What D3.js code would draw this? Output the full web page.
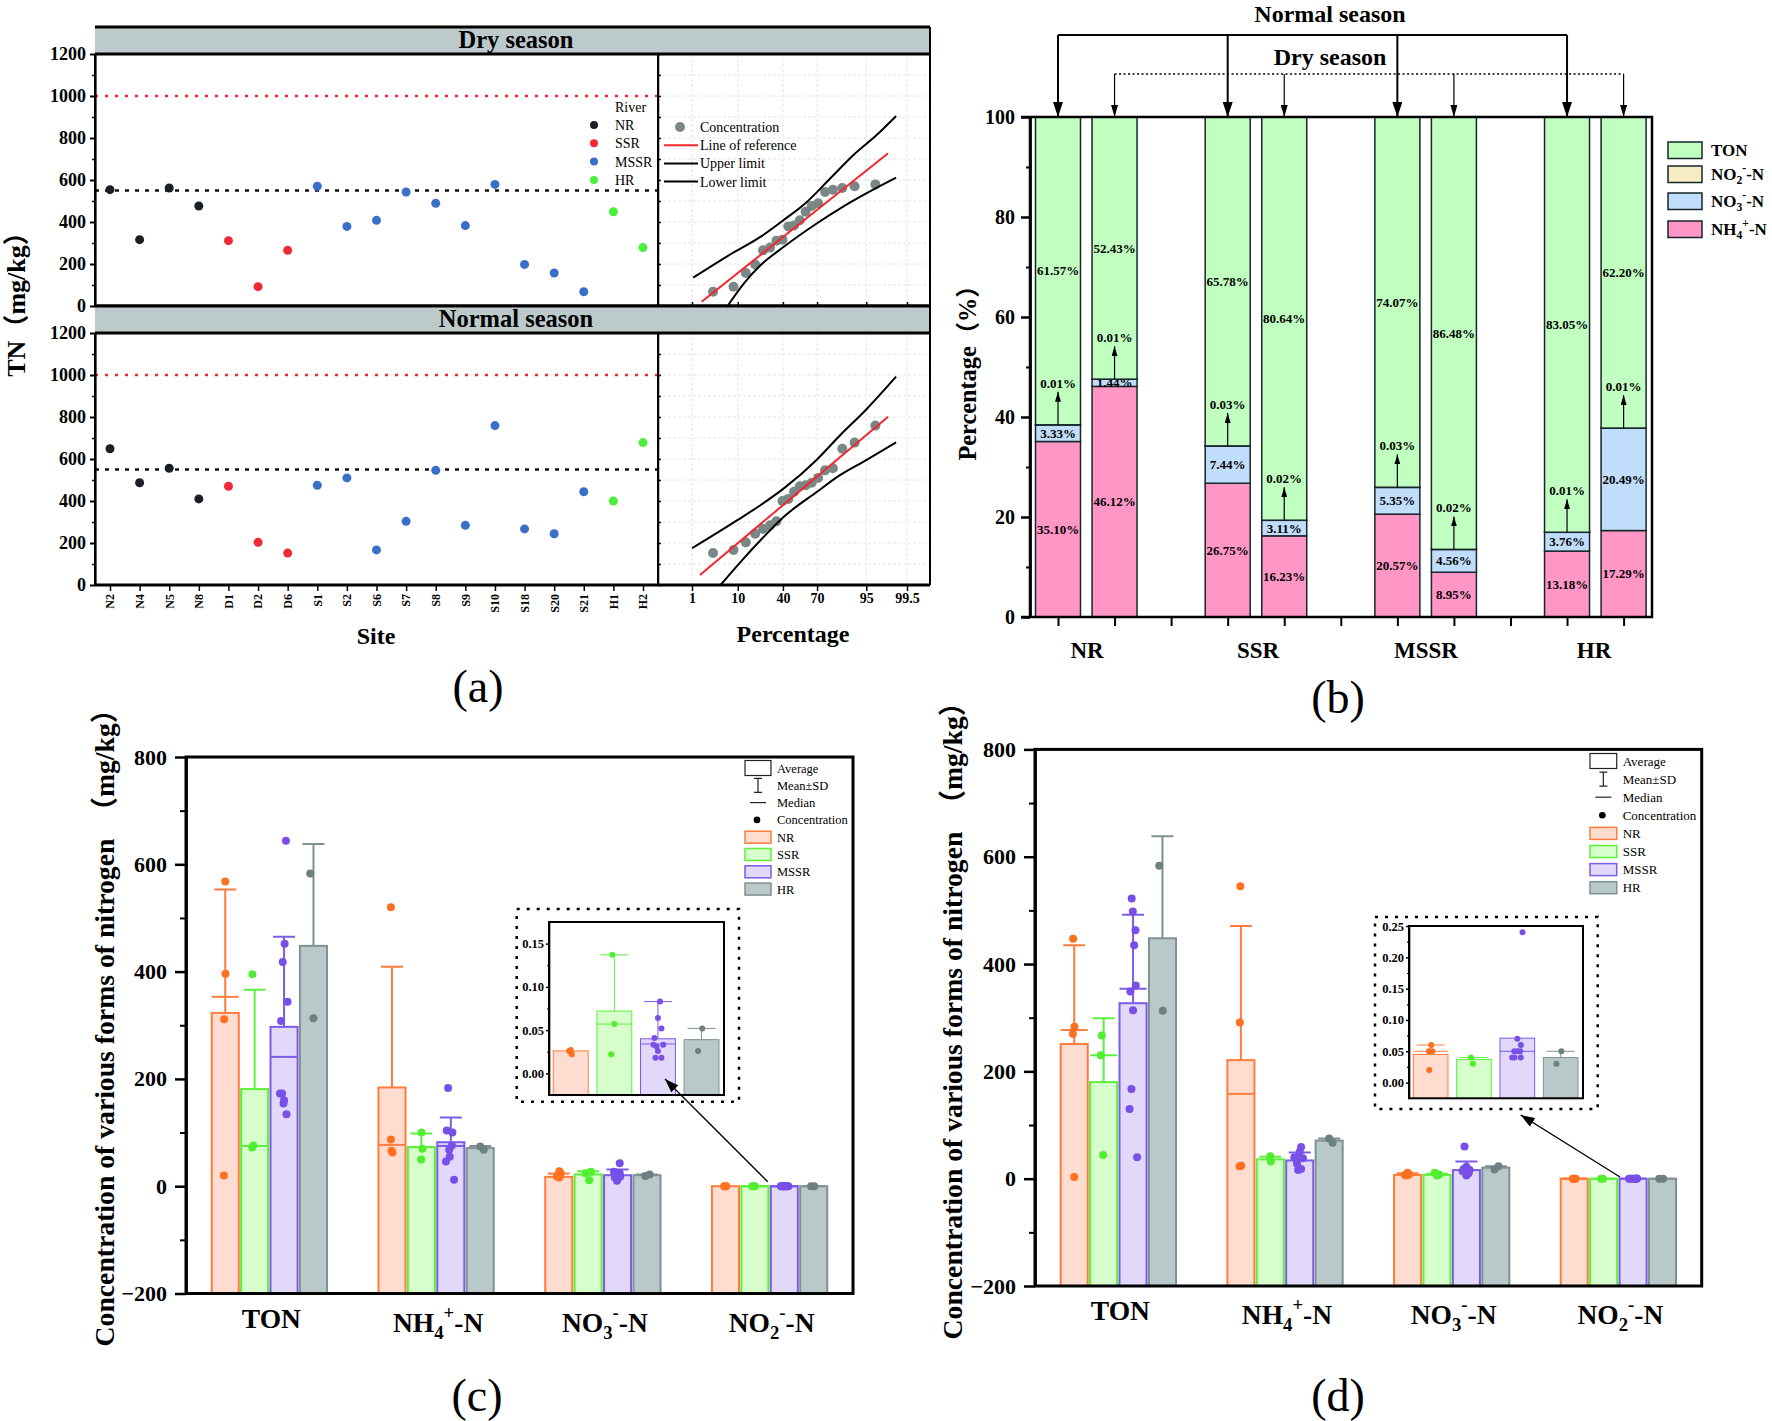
<!DOCTYPE html>
<html>
<head>
<meta charset="utf-8">
<script src="https://cdn.jsdelivr.net/npm/d3@7"></script>
<style>
  html, body { margin: 0; padding: 0; background: #fff; }
  svg { display: block; }
</style>
</head>
<body>
<svg id="chart"></svg>
<script>
// panel (a)
const sites = ["N2","N4","N5","N8","D1","D2","D6","S1","S2","S6","S7","S8","S9","S10","S18","S20","S21","H1","H2"];
const siteRiver = ["NR","NR","NR","NR","SSR","SSR","SSR","MSSR","MSSR","MSSR","MSSR","MSSR","MSSR","MSSR","MSSR","MSSR","MSSR","HR","HR"];
const dryTN = [554,316,562,476,311,92,265,570,379,408,543,489,383,579,198,157,68,449,278];
const normalTN = [649,487,556,410,470,203,152,475,510,167,303,546,284,759,267,244,444,400,678];
const qqPercent = [3.25,8.4,13.6,18.8,24,29.2,34.4,39.6,44.8,50,55.2,60.4,65.6,70.8,76,81.2,86.4,91.6,96.8];
const probTicks = [1,10,40,70,95,99.5];
const dryRef = [[1.76,20],[98.4,727]];
const dryUpper = [[1.07,135],[6.5,238],[22.4,330],[40.8,410],[61.8,497],[79.6,608],[91.2,719],[97,814],[99,905]];
const dryLower = [[6.5,0],[12.7,108],[22.4,195],[40.8,282],[70,394],[85.4,465],[95.1,537],[99,611]];
const normalRef = [[1.6,48],[98.4,801]];
const normalUpper = [[1,175],[10,310],[22.4,381],[40.8,460],[70,598],[85.4,714],[95,836],[99,992]];
const normalLower = [[4.7,0],[10,95],[22.4,214],[40.8,325],[70,444],[85.4,524],[95,595],[99,679]];

// panel (b)
const bGroups = ["NR","SSR","MSSR","HR"];
const bSlots = [0,1,3,4,6,7,9,10];
const bNH4 = [35.10,46.12,26.75,16.23,20.57,8.95,13.18,17.29];
const bNO3 = [3.33,1.44,7.44,3.11,5.35,4.56,3.76,20.49];
const bNO2 = [0.01,0.01,0.03,0.02,0.03,0.02,0.01,0.01];
const bTON = [61.57,52.43,65.78,80.64,74.07,86.48,83.05,62.20];
const bLegend = ["TON","NO2--N","NO3--N","NH4+-N"];

// panels (c) and (d), rows are forms of nitrogen, columns are rivers
const rivers = ["NR","SSR","MSSR","HR"];
const formNames = ["TON","NH4+-N","NO3--N","NO2--N"];

const cMeans = [[323,181,297,448],[184,73,82,71],[17.4,22,20.5,20.5],[0.026,0.072,0.04,0.039]];
const cTops = [[553,366,465,638],[409,98,128,75],[23.6,28,31,22],[0.026,0.137,0.083,0.052]];
const cMedians = [[353,75,241,null],[77,null,75,null],[null,null,null,null],[null,0.057,0.034,null]];
const cPoints = [
  [[568,396,311,20],[395,76,72],[644,452,418,344,308,173,173,160,154,134],[583,313]],
  [[520,87,66,63],[100,70,50],[183,104,100,76,68,55,46,12],[74,68]],
  [[28,18,16,24],[27,24,11],[43,27,24,22,20,18,16,14,10],[22,19]],
  [[0.027,0.026,0.022],[0.137,0.057,0.022],[0.083,0.064,0.052,0.041,0.033,0.033,0.031,0.026,0.018,0.018],[0.052,0.026]]
];
const cJitter = [
  [[0,0.01,-0.04,-0.05],[-0.08,-0.05,-0.09],[0.07,0.02,-0.05,0.13,-0.11,-0.15,-0.07,0,-0.02,0.09],[-0.12,0]],
  [[-0.04,-0.04,-0.02,0.02],[0,0.04,-0.01],[-0.1,-0.15,0.06,0.04,-0.06,-0.04,-0.18,0.12],[0,0.13]],
  [[0.02,-0.07,0.02,0.07],[0.1,-0.1,0.04],[0.08,-0.13,0.08,-0.07,0,0.1,-0.1,0.01,-0.02],[0.1,-0.06]],
  [[0,-0.05,0.03],[-0.06,0,-0.09],[0.06,0,0.1,-0.1,-0.13,0.15,-0.04,0,-0.07,0.1],[0.02,-0.1]]
];

const dMeans = [[251,180,327,448],[221,36,34,71],[7,7,16,20.5],[0.045,0.037,0.071,0.04]];
const dTops = [[435,299,492,638],[471,41,49,75],[10,9,32,23],[0.06,0.04,0.07,0.05]];
const dMedians = [[277,230,354,null],[158,null,null,null],[null,null,null,null],[0.05,null,0.05,null]];
const dPoints = [
  [[447,283,270,3],[267,230,44],[522,498,463,435,360,349,314,167,130,40],[583,313]],
  [[545,291,24,23],[42,37,32],[59,50,40,40,38,35,28,18,16],[75,67]],
  [[11,8,7,6],[11,8,6],[60,22,18,16,14,12,10,6],[23,17]],
  [[0.06,0.05,0.05,0.02],[0.04,0.03],[0.24,0.07,0.06,0.05,0.05,0.05,0.04,0.04,0.04],[0.05,0.03]]
];
const dJitter = [
  [[-0.04,0.01,-0.05,0],[-0.07,-0.11,-0.02],[-0.05,-0.01,0.09,0.04,0.1,-0.1,0,-0.06,-0.13,0.15],[-0.12,0.01]],
  [[-0.02,-0.04,0.01,-0.05],[0,0,0.02],[0.05,0,-0.2,-0.04,0.12,-0.12,-0.1,0.05,-0.06],[0,0.13]],
  [[0,0.06,-0.1,-0.04],[-0.08,0.08,0],[-0.07,0,-0.1,0.12,-0.14,0,0.08,0],[0.1,-0.05]],
  [[0.02,-0.05,0.05,-0.04],[-0.09,-0.03],[0.15,0,0.1,-0.09,0,0.08,-0.15,-0.08,0.1],[0.02,-0.12]]
];

const W = 1772, H = 1421;
const serif = '"Liberation Serif","Noto Sans CJK SC",serif';

const svg = d3.select("#chart").attr("width", W).attr("height", H)
  .attr("viewBox", `0 0 ${W} ${H}`)
  .style("font-family", serif).style("font-weight", "bold");

svg.append("rect").attr("width", W).attr("height", H).attr("fill", "#fff");

function arrowMarker(id, w, l, color) {
  svg.append("defs").append("marker")
    .attr("id", id).attr("markerUnits", "userSpaceOnUse")
    .attr("viewBox", `0 0 ${l} ${w}`)
    .attr("refX", l).attr("refY", w / 2)
    .attr("markerWidth", l).attr("markerHeight", w)
    .attr("orient", "auto")
    .append("path").attr("d", `M0,0L${l},${w / 2}L0,${w}Z`).attr("fill", color);
}
arrowMarker("arrowBig", 10, 15, "#000");
arrowMarker("arrowMid", 7, 12, "#000");
arrowMarker("arrowSmall", 6, 10, "#000");
arrowMarker("arrowInset", 10, 14, "#000");

// NH4+-N style names with real sub and superscripts
function chem(text, name, size) {
  const m = name.match(/^(N[HO])(\d)([+-])(-N)$/);
  if (!m) { text.text(name); return; }
  const small = size * 0.68, shift = size * 0.26, up = size * 0.72;
  text.append("tspan").text(m[1]);
  text.append("tspan").attr("font-size", small).attr("dy", shift).text(m[2]);
  text.append("tspan").attr("font-size", small).attr("dy", -up).text(m[3]);
  text.append("tspan").attr("dy", up - shift).text(m[4]);
}

function styleAxis(g, size, width) {
  g.selectAll("text").style("font-family", serif).style("font-weight", "bold").attr("font-size", size).attr("fill", "#000");
  g.selectAll("line,path").attr("stroke", "#000").attr("stroke-width", width);
}

function panelLabel(s, x, y) {
  svg.append("text").attr("x", x).attr("y", y).attr("text-anchor", "middle")
    .attr("font-size", 46).attr("font-weight", "normal").text(s);
}

function rotated(s, x, y, size) {
  return svg.append("text").attr("transform", `translate(${x},${y}) rotate(-90)`)
    .attr("text-anchor", "middle").attr("font-size", size).text(s);
}

// ---------- panel (a) ----------
const xSite = d3.scalePoint().domain(sites).range([110, 643]);
const zOf = p => {
  // inverse normal, Winitzki approximation
  const a = 0.147, x = 2 * p / 100 - 1, ln = Math.log(1 - x * x), t = 2 / (Math.PI * a) + ln / 2;
  return Math.SQRT2 * Math.sign(x) * Math.sqrt(Math.sqrt(t * t - ln / a) - t);
};
const xProb = d3.scaleLinear().domain([zOf(1), zOf(99.5)]).range([692, 907]);
const riverDot = d3.scaleOrdinal().domain(rivers).range(["#1a1f26", "#ee2a35", "#3a6fc9", "#4cf03c"]);

function seasonPanel(top, title, values, ref, upper, lower, isBottom) {
  const left = 95, split = 658, right = 930, bottom = top + 252;
  const y = d3.scaleLinear().domain([0, 1200]).range([bottom, top]);
  const g = svg.append("g");

  g.append("rect").attr("x", left).attr("y", top - 27).attr("width", right - left).attr("height", 27)
    .attr("fill", "#bccacb");
  g.append("text").attr("x", 516).attr("y", top - 6).attr("text-anchor", "middle")
    .attr("font-size", 24.5).text(title);

  // grid on the probability side
  g.append("g").selectAll("line").data(d3.range(100, 1200, 100)).join("line")
    .attr("x1", split).attr("x2", right).attr("y1", d => y(d)).attr("y2", d => y(d))
    .attr("stroke", "#e2e6e6").attr("stroke-dasharray", "3 2");
  g.append("g").selectAll("line").data(probTicks).join("line")
    .attr("x1", d => xProb(zOf(d))).attr("x2", d => xProb(zOf(d))).attr("y1", top).attr("y2", bottom)
    .attr("stroke", "#e2e6e6").attr("stroke-dasharray", "3 2");

  // limit lines
  g.append("line").attr("x1", left).attr("x2", split).attr("y1", y(1000)).attr("y2", y(1000))
    .attr("stroke", "#f5262c").attr("stroke-width", 2.5).attr("stroke-dasharray", "3 7");
  g.append("line").attr("x1", left).attr("x2", split).attr("y1", y(550)).attr("y2", y(550))
    .attr("stroke", "#111").attr("stroke-width", 2.5).attr("stroke-dasharray", "4 6");

  g.append("g").selectAll("circle").data(values).join("circle")
    .attr("cx", (d, i) => xSite(sites[i])).attr("cy", d => y(d)).attr("r", 4.5)
    .attr("fill", (d, i) => riverDot(siteRiver[i]));

  // probability plot
  const line = d3.line().x(d => xProb(zOf(d[0]))).y(d => y(d[1]));
  const curve = d3.line().x(d => xProb(zOf(d[0]))).y(d => y(d[1])).curve(d3.curveMonotoneX);
  const sorted = d3.sort(values);
  g.append("g").selectAll("circle").data(sorted).join("circle")
    .attr("cx", (d, i) => xProb(zOf(qqPercent[i]))).attr("cy", d => y(d)).attr("r", 5)
    .attr("fill", "#7a8788");
  g.append("path").attr("d", line(ref)).attr("fill", "none").attr("stroke", "#f5262c").attr("stroke-width", 2);
  g.append("path").attr("d", curve(upper)).attr("fill", "none").attr("stroke", "#000").attr("stroke-width", 2);
  g.append("path").attr("d", curve(lower)).attr("fill", "none").attr("stroke", "#000").attr("stroke-width", 2);

  // axes
  const yMajor = g.append("g").attr("transform", `translate(${left},0)`)
    .call(d3.axisLeft(y).tickValues(d3.range(0, 1201, 200)).tickFormat(d3.format("d")).tickSize(5).tickPadding(4).tickSizeOuter(0));
  styleAxis(yMajor, 18, 2);
  const yMinor = g.append("g").attr("transform", `translate(${left},0)`)
    .call(d3.axisLeft(y).tickValues(d3.range(100, 1200, 200)).tickSize(3).tickFormat("").tickSizeOuter(0));
  styleAxis(yMinor, 10, 1.5);
  const ySplit = g.append("g").attr("transform", `translate(${split},0)`)
    .call(d3.axisRight(y).tickValues(d3.range(0, 1201, 100)).tickSize(3).tickFormat("").tickSizeOuter(0));
  styleAxis(ySplit, 10, 1.5);

  if (isBottom) {
    const xa = g.append("g").attr("transform", `translate(0,${bottom})`)
      .call(d3.axisBottom(xSite).tickSize(6).tickPadding(2).tickSizeOuter(0));
    styleAxis(xa, 12, 1.5);
    xa.select("path").remove();
    xa.selectAll("text").attr("transform", "rotate(-90)").attr("text-anchor", "end")
      .attr("x", -9).attr("y", 0).attr("dy", "0.32em");
    const xp = g.append("g").attr("transform", `translate(0,${bottom})`)
      .call(d3.axisBottom(xProb).tickValues(probTicks.map(zOf)).tickFormat((d, i) => probTicks[i]).tickSize(6).tickPadding(2).tickSizeOuter(0));
    styleAxis(xp, 14, 1.5);
    xp.select("path").remove();
  } else {
    const xp = g.append("g").attr("transform", `translate(0,${bottom})`)
      .call(d3.axisTop(xProb).tickValues(probTicks.map(zOf)).tickFormat("").tickSize(4).tickSizeOuter(0));
    styleAxis(xp, 10, 1.5);
    xp.select("path").remove();
  }

  // frame
  g.append("path").attr("d", `M${left},${top}V${bottom}M${split},${top}V${bottom}M${right},${top - 27}V${bottom}`)
    .attr("stroke", "#000").attr("stroke-width", 2).attr("fill", "none");
  g.append("path").attr("d", `M${left},${top - 27}H${right}M${left},${top}H${right}M${left},${bottom}H${right}`)
    .attr("stroke", "#000").attr("stroke-width", 3).attr("fill", "none");
}

seasonPanel(54, "Dry season", dryTN, dryRef, dryUpper, dryLower, false);
seasonPanel(333, "Normal season", normalTN, normalRef, normalUpper, normalLower, true);

// legends of (a)
const aLegend = svg.append("g").attr("font-weight", "normal").attr("font-size", 14);
aLegend.append("text").attr("x", 615).attr("y", 112).text("River");
rivers.forEach((r, i) => {
  const cy = 125 + i * 18.3;
  aLegend.append("circle").attr("cx", 594).attr("cy", cy).attr("r", 4).attr("fill", riverDot(r));
  aLegend.append("text").attr("x", 615).attr("y", cy + 5).text(r);
});
const qqLegend = [["Concentration", "dot"], ["Line of reference", "#f5262c"], ["Upper limit", "#000"], ["Lower limit", "#000"]];
qqLegend.forEach((d, i) => {
  const cy = 127 + i * 18.2;
  if (d[1] === "dot") aLegend.append("circle").attr("cx", 680).attr("cy", cy).attr("r", 5).attr("fill", "#7a8788");
  else aLegend.append("line").attr("x1", 664).attr("x2", 698).attr("y1", cy).attr("y2", cy).attr("stroke", d[1]).attr("stroke-width", 2);
  aLegend.append("text").attr("x", 700).attr("y", cy + 5).text(d[0]);
});

rotated("TN（mg/kg）", 25, 298, 26);
svg.append("text").attr("x", 376).attr("y", 644).attr("text-anchor", "middle").attr("font-size", 24).text("Site");
svg.append("text").attr("x", 793).attr("y", 642).attr("text-anchor", "middle").attr("font-size", 24).text("Percentage");
panelLabel("(a)", 478, 702);

// ---------- panel (b) ----------
(function () {
  const y = d3.scaleLinear().domain([0, 100]).range([617, 117]);
  const x = d3.scaleLinear().domain([0, 10]).range([1058, 1623.6]);
  const barW = 45;
  const stackColors = { NH4: "#ff96c6", NO3: "#c0ddfb", NO2: "#f5ecc4", TON: "#c1ffc1" };
  const g = svg.append("g");

  bSlots.forEach((slot, i) => {
    let base = 0;
    [["NH4", bNH4[i]], ["NO3", bNO3[i]], ["NO2", bNO2[i]], ["TON", bTON[i]]].forEach(([k, v]) => {
      g.append("rect").attr("x", x(slot) - barW / 2).attr("width", barW)
        .attr("y", y(base + v)).attr("height", y(base) - y(base + v))
        .attr("fill", stackColors[k]).attr("stroke", "#16262a").attr("stroke-width", 1.5);
      if (k !== "NO2") {
        g.append("text").attr("x", x(slot)).attr("y", y(base + v / 2) + 4.5).attr("text-anchor", "middle")
          .attr("font-size", 13).text(v.toFixed(2) + "%");
      }
      base += v;
    });
    // the nitrite share is too thin, so it is pointed at
    const stem = y(bNH4[i] + bNO3[i]);
    g.append("line").attr("x1", x(slot)).attr("x2", x(slot)).attr("y1", stem).attr("y2", stem - 33)
      .attr("stroke", "#000").attr("stroke-width", 1.2).attr("marker-end", "url(#arrowSmall)");
    g.append("text").attr("x", x(slot)).attr("y", stem - 37).attr("text-anchor", "middle")
      .attr("font-size", 13).text(bNO2[i].toFixed(2) + "%");
  });

  const axisY = g.append("g").attr("transform", "translate(1030,0)")
    .call(d3.axisLeft(y).tickValues(d3.range(0, 101, 20)).tickSize(9).tickPadding(6).tickSizeOuter(0));
  styleAxis(axisY, 20, 2.5);
  const axisYm = g.append("g").attr("transform", "translate(1030,0)")
    .call(d3.axisLeft(y).tickValues(d3.range(10, 100, 20)).tickSize(4).tickFormat("").tickSizeOuter(0));
  styleAxis(axisYm, 10, 2);
  const axisX = g.append("g").attr("transform", "translate(0,617)")
    .call(d3.axisBottom(x).tickValues(d3.range(0, 11)).tickSize(9).tickFormat("").tickSizeOuter(0));
  styleAxis(axisX, 10, 2);
  axisX.select("path").remove();
  g.append("path").attr("d", "M1021,117H1652V617H1021M1030,117V617")
    .attr("fill", "none").attr("stroke", "#000").attr("stroke-width", 2.5);

  [1087, 1258, 1426, 1594].forEach((cx, i) => {
    g.append("text").attr("x", cx).attr("y", 658).attr("text-anchor", "middle")
      .attr("font-size", 23).text(bGroups[i]);
  });

  // season brackets
  const normalSlots = [0, 3, 6, 9], drySlots = [1, 4, 7, 10];
  g.append("line").attr("x1", x(0)).attr("x2", x(9)).attr("y1", 35).attr("y2", 35).attr("stroke", "#000").attr("stroke-width", 2);
  normalSlots.forEach(s => g.append("line").attr("x1", x(s)).attr("x2", x(s)).attr("y1", 35).attr("y2", 117)
    .attr("stroke", "#000").attr("stroke-width", 2).attr("marker-end", "url(#arrowBig)"));
  g.append("line").attr("x1", x(1)).attr("x2", x(10)).attr("y1", 74).attr("y2", 74)
    .attr("stroke", "#000").attr("stroke-width", 1.5).attr("stroke-dasharray", "2 2.5");
  drySlots.forEach(s => g.append("line").attr("x1", x(s)).attr("x2", x(s)).attr("y1", 74).attr("y2", 117)
    .attr("stroke", "#000").attr("stroke-width", 1.2).attr("marker-end", "url(#arrowMid)"));
  g.append("text").attr("x", 1330).attr("y", 21.5).attr("text-anchor", "middle").attr("font-size", 24).text("Normal season");
  g.append("text").attr("x", 1330).attr("y", 65).attr("text-anchor", "middle").attr("font-size", 24).text("Dry season");

  // legend
  const swatchColor = [stackColors.TON, stackColors.NO2, stackColors.NO3, stackColors.NH4];
  const swatchY = [142, 166, 193, 221];
  bLegend.forEach((name, i) => {
    g.append("rect").attr("x", 1668).attr("y", swatchY[i]).attr("width", 34).attr("height", 16.5)
      .attr("fill", swatchColor[i]).attr("stroke", "#16262a").attr("stroke-width", 1.5);
    chem(g.append("text").attr("x", 1711).attr("y", swatchY[i] + 14).attr("font-size", 17), name, 17);
  });

  rotated("Percentage（%）", 976, 367, 24.3);
  panelLabel("(b)", 1338, 713);
})();

// ---------- panels (c) and (d) ----------
const riverStroke = d3.scaleOrdinal().domain(rivers).range(["#ff7d3c", "#5cf03c", "#7b5ce6", "#7f9192"]);
const riverFill = d3.scaleOrdinal().domain(rivers).range(["#ffdcd0", "#d6ffcc", "#e2d8fa", "#b9c8c9"]);
const riverPoint = d3.scaleOrdinal().domain(rivers).range(["#ff7020", "#50ee30", "#7850e8", "#6f8081"]);

function drawBars(g, xBand, y, floor, means, tops, medians, points, jitter, capW, r, sw) {
  rivers.forEach((river, j) => {
    const x0 = xBand(river), bw = xBand.bandwidth(), cx = x0 + bw / 2;
    g.append("rect").attr("x", x0).attr("width", bw).attr("y", y(means[j]))
      .attr("height", y(floor) - y(means[j]))
      .attr("fill", riverFill(river)).attr("stroke", riverStroke(river)).attr("stroke-width", sw);
    if (tops[j] > means[j]) {
      g.append("path").attr("d", `M${cx},${y(means[j])}V${y(tops[j])}M${cx - capW / 2},${y(tops[j])}H${cx + capW / 2}`)
        .attr("fill", "none").attr("stroke", riverStroke(river)).attr("stroke-width", sw);
    }
    if (medians[j] !== null) {
      g.append("line").attr("x1", x0).attr("x2", x0 + bw).attr("y1", y(medians[j])).attr("y2", y(medians[j]))
        .attr("stroke", riverStroke(river)).attr("stroke-width", sw);
    }
    g.append("g").selectAll("circle").data(points[j]).join("circle")
      .attr("cx", (d, k) => cx + jitter[j][k] * bw).attr("cy", d => y(d)).attr("r", r)
      .attr("fill", riverPoint(river));
  });
}

function barPanel(o) {
  const g = svg.append("g");
  const y = d3.scaleLinear().domain([-200, 800]).range([o.bottom, o.top]);
  const xForm = d3.scaleBand().domain(formNames).range([o.left, o.right]);
  const bandW = xForm.bandwidth();

  formNames.forEach((form, i) => {
    const start = xForm(form);
    const xRiver = d3.scaleBand().domain(rivers).range([start + 25.7, start + 141]).paddingInner(0.08);
    drawBars(g, xRiver, y, -200, o.means[i], o.tops[i], o.medians[i], o.points[i], o.jitter[i], 22, 4, 2);
    chem(g.append("text").attr("x", start + bandW / 2 + 2).attr("y", o.bottom + (i === 0 ? 34 : 38))
      .attr("text-anchor", "middle").attr("font-size", 27.5), form, 27.5);
  });

  const ya = g.append("g").attr("transform", `translate(${o.left},0)`)
    .call(d3.axisLeft(y).tickValues(d3.range(-200, 801, 200)).tickSize(11).tickPadding(8).tickSizeOuter(0));
  styleAxis(ya, 22, 2.5);
  const ym = g.append("g").attr("transform", `translate(${o.left},0)`)
    .call(d3.axisLeft(y).tickValues(d3.range(-100, 800, 200)).tickSize(6).tickFormat("").tickSizeOuter(0));
  styleAxis(ym, 10, 2);
  g.append("rect").attr("x", o.left).attr("y", o.top).attr("width", o.right - o.left).attr("height", o.bottom - o.top)
    .attr("fill", "none").attr("stroke", "#000").attr("stroke-width", 3);

  // legend
  const L = g.append("g").attr("font-weight", "normal").attr("font-size", o.legendSize);
  const lx = o.legendX, lw = o.legendW, ly = o.legendY, st = o.legendStep, tx = lx + lw + 6;
  L.append("rect").attr("x", lx).attr("y", ly - 7.5).attr("width", lw).attr("height", 15)
    .attr("fill", "#fff").attr("stroke", "#222").attr("stroke-width", 1.2);
  const mx = lx + lw / 2;
  L.append("path").attr("d", `M${mx - 4},${ly + st - 7}H${mx + 4}M${mx},${ly + st - 7}V${ly + st + 7}M${mx - 4},${ly + st + 7}H${mx + 4}`)
    .attr("fill", "none").attr("stroke", "#222").attr("stroke-width", 1.2);
  L.append("line").attr("x1", mx - 8).attr("x2", mx + 8).attr("y1", ly + 2 * st).attr("y2", ly + 2 * st)
    .attr("stroke", "#222").attr("stroke-width", 1.2);
  L.append("circle").attr("cx", mx - 1).attr("cy", ly + 3 * st).attr("r", 3.3).attr("fill", "#000");
  ["Average", "Mean±SD", "Median", "Concentration"].forEach((t, i) => {
    L.append("text").attr("x", tx).attr("y", ly + i * st + 4.5).text(t);
  });
  rivers.forEach((r, i) => {
    const cy = ly + (i + 4) * st;
    L.append("rect").attr("x", lx).attr("y", cy - 6).attr("width", lw).attr("height", 12)
      .attr("fill", riverFill(r)).attr("stroke", riverStroke(r)).attr("stroke-width", 1.5);
    L.append("text").attr("x", tx).attr("y", cy + 4.5).text(r);
  });

  // inset of the nitrite bars
  const inY = d3.scaleLinear().domain(o.insetDomain).range([o.inset.bottom, o.inset.top]);
  const inX = d3.scaleBand().domain(rivers).range([o.inset.left + 4.3, o.inset.right - 5]).paddingInner(0.2);
  g.append("rect").attr("x", o.dotted.left).attr("y", o.dotted.top)
    .attr("width", o.dotted.right - o.dotted.left).attr("height", o.dotted.bottom - o.dotted.top)
    .attr("fill", "#fff").attr("stroke", "#000").attr("stroke-width", 2.5).attr("stroke-dasharray", "3 7");
  drawBars(g, inX, inY, o.insetDomain[0], o.means[3], o.tops[3], o.medians[3], o.points[3], o.jitter[3], 28, 3, 1);
  const ia = g.append("g").attr("transform", `translate(${o.inset.left},0)`)
    .call(d3.axisLeft(inY).tickValues(o.insetTicks).tickSize(3).tickPadding(2).tickFormat(d3.format(".2f")).tickSizeOuter(0));
  styleAxis(ia, 12.5, 1.5);
  const im = g.append("g").attr("transform", `translate(${o.inset.left},0)`)
    .call(d3.axisLeft(inY).tickValues(o.insetTicks.slice(1).map(d => d - 0.025)).tickSize(2).tickFormat("").tickSizeOuter(0));
  styleAxis(im, 10, 1.2);
  g.append("rect").attr("x", o.inset.left).attr("y", o.inset.top)
    .attr("width", o.inset.right - o.inset.left).attr("height", o.inset.bottom - o.inset.top)
    .attr("fill", "none").attr("stroke", "#000").attr("stroke-width", 2);

  g.append("line").attr("x1", o.arrow[0]).attr("y1", o.arrow[1]).attr("x2", o.arrow[2]).attr("y2", o.arrow[3])
    .attr("stroke", "#000").attr("stroke-width", 1.3).attr("marker-end", "url(#arrowInset)");
}

barPanel({
  left: 186, right: 853, top: 757, bottom: 1293.5,
  means: cMeans, tops: cTops, medians: cMedians, points: cPoints, jitter: cJitter,
  legendX: 745, legendW: 26, legendY: 768, legendStep: 17.3, legendSize: 12.5,
  inset: { left: 549, right: 724, top: 922, bottom: 1095 },
  dotted: { left: 516.7, right: 739, top: 909, bottom: 1101.7 },
  insetDomain: [-0.025, 0.175], insetTicks: [0, 0.05, 0.1, 0.15],
  arrow: [767.7, 1181.7, 665, 1079]
});

barPanel({
  left: 1035, right: 1701.7, top: 749.4, bottom: 1286,
  means: dMeans, tops: dTops, medians: dMedians, points: dPoints, jitter: dJitter,
  legendX: 1590, legendW: 26.7, legendY: 761, legendStep: 18.1, legendSize: 13,
  inset: { left: 1409, right: 1583, top: 926, bottom: 1098.3 },
  dotted: { left: 1375, right: 1597.7, top: 917, bottom: 1109 },
  insetDomain: [-0.025, 0.25], insetTicks: [0, 0.05, 0.1, 0.15, 0.2, 0.25],
  arrow: [1620, 1177, 1520.7, 1115]
});

rotated("Concentration of various forms of nitrogen \u00A0（mg/kg）", 114, 1021, 27.7);
rotated("Concentration of various forms of nitrogen \u00A0（mg/kg）", 962, 1014, 27.7);
panelLabel("(c)", 477, 1411);
panelLabel("(d)", 1338, 1411);
</script>
</body>
</html>
